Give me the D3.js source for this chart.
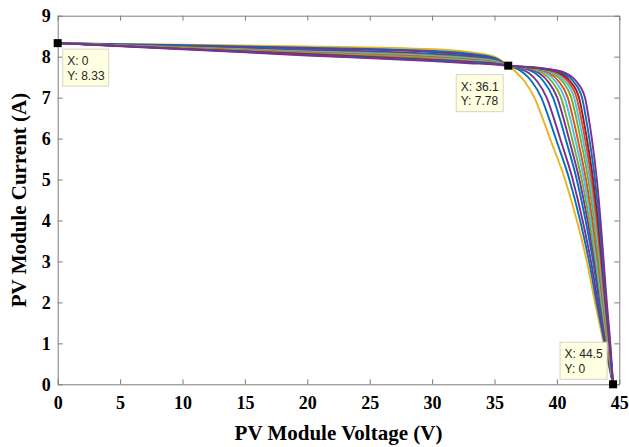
<!DOCTYPE html>
<html>
<head>
<meta charset="utf-8">
<script src="https://cdn.jsdelivr.net/npm/d3@7"></script>
<style>
  html, body { margin: 0; padding: 0; background: #fff; }
  svg { display: block; }
</style>
</head>
<body>
<svg id="chart" width="629" height="447"></svg>
<script>
// I-V curves of a PV module for a family of model parameters.
// Flat region: current at shared voltages. Knee/drop region: voltage at shared current levels.
const xTicks = [0, 5, 10, 15, 20, 25, 30, 35, 40, 45];
const yTicks = [0, 1, 2, 3, 4, 5, 6, 7, 8, 9];

const seriesColors = [
  "#EDB120", "#0072BD", "#7E2F8E", "#0072BD", "#7E2F8E", "#77AC30", "#4DBEEE",
  "#D95319", "#77AC30", "#4DBEEE", "#D95319", "#A2142F", "#0072BD", "#7E2F8E"
];

const flatVoltage = [0, 10, 20, 30, 33, 35, 36.1];
const flatCurrent = [
  [8.33, 8.29, 8.25, 8.18, 8.11, 8.00, 7.78],
  [8.33, 8.28, 8.22, 8.14, 8.07, 7.97, 7.78],
  [8.33, 8.26, 8.20, 8.11, 8.04, 7.95, 7.78],
  [8.33, 8.25, 8.17, 8.07, 8.01, 7.93, 7.78],
  [8.33, 8.24, 8.15, 8.05, 7.99, 7.91, 7.78],
  [8.33, 8.23, 8.13, 8.03, 7.97, 7.90, 7.78],
  [8.33, 8.22, 8.12, 8.01, 7.95, 7.89, 7.78],
  [8.33, 8.22, 8.10, 7.99, 7.93, 7.87, 7.78],
  [8.33, 8.21, 8.09, 7.97, 7.91, 7.86, 7.78],
  [8.33, 8.20, 8.08, 7.95, 7.90, 7.85, 7.78],
  [8.33, 8.20, 8.07, 7.94, 7.88, 7.84, 7.78],
  [8.33, 8.19, 8.06, 7.92, 7.87, 7.83, 7.78],
  [8.33, 8.19, 8.04, 7.91, 7.86, 7.82, 7.78],
  [8.33, 8.18, 8.03, 7.89, 7.84, 7.81, 7.78]
];

const kneeCurrent = [7.7, 7.6, 7.4, 7.0, 6.5, 6.0, 5.0, 4.0, 3.0, 2.0, 1.0, 0];
const kneeVoltage = [
  [36.45, 36.80, 37.40, 38.20, 38.85, 39.45, 40.65, 41.60, 42.40, 43.05, 43.75, 44.5],
  [36.84, 37.33, 37.97, 38.75, 39.36, 39.91, 41.00, 41.86, 42.58, 43.18, 43.82, 44.5],
  [37.14, 37.75, 38.41, 39.18, 39.75, 40.26, 41.27, 42.06, 42.73, 43.28, 43.88, 44.5],
  [37.50, 38.24, 38.93, 39.69, 40.22, 40.69, 41.59, 42.30, 42.90, 43.40, 43.95, 44.5],
  [37.74, 38.56, 39.27, 40.03, 40.52, 40.96, 41.80, 42.46, 43.01, 43.48, 43.99, 44.5],
  [37.95, 38.85, 39.58, 40.33, 40.79, 41.21, 41.99, 42.60, 43.11, 43.55, 44.03, 44.5],
  [38.15, 39.12, 39.87, 40.61, 41.06, 41.45, 42.17, 42.73, 43.20, 43.62, 44.07, 44.5],
  [38.33, 39.37, 40.13, 40.87, 41.29, 41.66, 42.33, 42.85, 43.29, 43.68, 44.10, 44.5],
  [38.53, 39.64, 40.43, 41.15, 41.55, 41.89, 42.51, 42.99, 43.38, 43.74, 44.14, 44.5],
  [38.68, 39.86, 40.65, 41.38, 41.75, 42.08, 42.65, 43.09, 43.46, 43.79, 44.17, 44.5],
  [38.83, 40.06, 40.87, 41.58, 41.94, 42.25, 42.78, 43.19, 43.53, 43.84, 44.19, 44.5],
  [38.96, 40.24, 41.06, 41.77, 42.11, 42.40, 42.90, 43.28, 43.59, 43.89, 44.22, 44.5],
  [39.13, 40.47, 41.31, 42.01, 42.33, 42.60, 43.05, 43.39, 43.67, 43.94, 44.25, 44.5],
  [39.30, 40.70, 41.55, 42.25, 42.55, 42.80, 43.20, 43.50, 43.75, 44.00, 44.28, 44.5]
];

// Data tips: short-circuit point, maximum power point, open-circuit point
const tipX = [0, 36.1, 44.5];
const tipY = [8.33, 7.78, 0];

const svg = d3.select("#chart");
const W = 629, H = 447;
const margin = { left: 57.7, right: 9.7, top: 15.7, bottom: 62.7 };

const x = d3.scaleLinear().domain([0, 45]).range([margin.left, W - margin.right]);
const y = d3.scaleLinear().domain([0, 9]).range([H - margin.bottom, margin.top]);

const axisColor = "#7d7d7d";
const tickFont = "'Liberation Serif', 'Times New Roman', serif";

// Curves
const line = d3.line()
  .x(d => x(d[0]))
  .y(d => y(d[1]))
  .curve(d3.curveMonotoneX);

const curves = flatCurrent.map((row, k) => {
  const pts = flatVoltage.map((v, i) => [v, row[i]]);
  kneeVoltage[k].forEach((v, i) => pts.push([v, kneeCurrent[i]]));
  return pts;
});

svg.append("g")
  .selectAll("path")
  .data(curves)
  .join("path")
  .attr("d", line)
  .attr("fill", "none")
  .attr("stroke", (d, k) => seriesColors[k])
  .attr("stroke-width", 1.9)
  .attr("stroke-linejoin", "round");

// Axes (box with inward ticks on all sides)
function styleAxis(g) {
  g.select(".domain").attr("stroke", axisColor).attr("stroke-width", 1);
  g.selectAll(".tick line").attr("stroke", axisColor).attr("stroke-width", 1);
  g.selectAll(".tick text")
    .attr("fill", "#000")
    .style("font-family", tickFont)
    .style("font-weight", "bold")
    .style("font-size", "18px");
}

svg.append("g")
  .attr("transform", `translate(0,${y(0)})`)
  .call(d3.axisBottom(x).tickValues(xTicks).tickSize(-5).tickSizeOuter(0).tickPadding(12))
  .call(styleAxis);

svg.append("g")
  .attr("transform", `translate(0,${y(9)})`)
  .call(d3.axisTop(x).tickValues(xTicks).tickSize(-5).tickSizeOuter(0).tickFormat(""))
  .call(styleAxis);

svg.append("g")
  .attr("transform", `translate(${x(0)},0)`)
  .call(d3.axisLeft(y).tickValues(yTicks).tickSize(-5).tickSizeOuter(0).tickPadding(7))
  .call(styleAxis);

svg.append("g")
  .attr("transform", `translate(${x(45)},0)`)
  .call(d3.axisRight(y).tickValues(yTicks).tickSize(-5).tickSizeOuter(0).tickFormat(""))
  .call(styleAxis);

// Axis titles
svg.append("text")
  .attr("x", (x(0) + x(45)) / 2)
  .attr("y", 440)
  .attr("text-anchor", "middle")
  .style("font-family", tickFont)
  .style("font-weight", "bold")
  .style("font-size", "21px")
  .text("PV Module Voltage (V)");

svg.append("text")
  .attr("transform", `translate(26,${(y(0) + y(9)) / 2}) rotate(-90)`)
  .attr("text-anchor", "middle")
  .style("font-family", tickFont)
  .style("font-weight", "bold")
  .style("font-size", "21px")
  .text("PV Module Current (A)");

// Data tips
// box anchor offsets from the marker: [dx, dy, alignRight, alignBottom]
const tipPlacement = [
  [5, 6, false, false],
  [-5, 9, true, false],
  [-6, -5, true, true]
];
const tipLayer = svg.append("g");
tipX.forEach((tx, i) => {
  const px = x(tx), py = y(tipY[i]);
  const g = tipLayer.append("g");
  const rect = g.append("rect")
    .attr("fill", "#ffffe1")
    .attr("stroke", "#d6d6c4")
    .attr("stroke-width", 1);
  const lines = ["X: " + tx, "Y: " + tipY[i]];
  const texts = lines.map(s => g.append("text")
    .style("font-family", "'Liberation Sans', Arial, sans-serif")
    .style("font-size", "12px")
    .attr("fill", "#262626")
    .text(s));
  const tw = Math.max(...texts.map(t => t.node().getComputedTextLength()));
  const bw = Math.round(tw + 9), bh = 37;
  const [dx, dy, right, bottom] = tipPlacement[i];
  const bx = right ? px + dx - bw : px + dx;
  const by = bottom ? py + dy - bh : py + dy;
  rect.attr("x", bx).attr("y", by).attr("width", bw).attr("height", bh);
  texts.forEach((t, j) => t.attr("x", bx + 4.5).attr("y", by + 16 + j * 14.5));
  tipLayer.append("rect")
    .attr("x", px - 4).attr("y", py - 4)
    .attr("width", 8).attr("height", 8)
    .attr("fill", "#000");
});
</script>
</body>
</html>
